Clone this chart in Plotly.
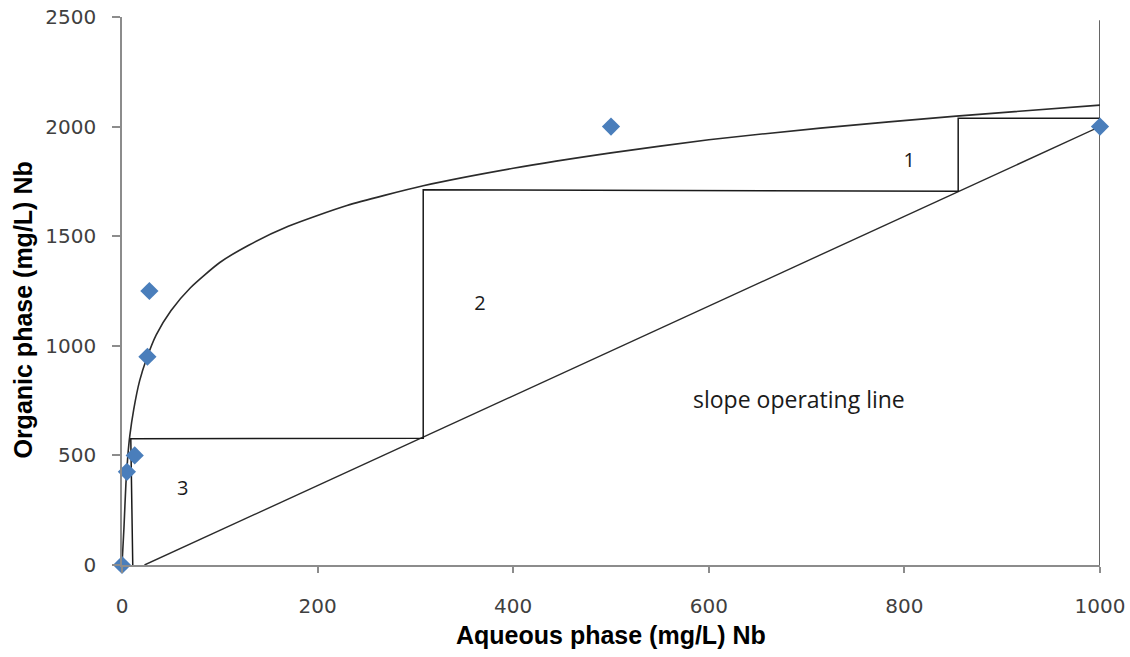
import plotly.graph_objects as go

# Measured equilibrium data (aqueous vs organic Nb, mg/L)
eq_aq = [0, 5, 13, 26, 28, 500, 1000]
eq_org = [0, 425, 500, 950, 1250, 2000, 2000]

# Extraction isotherm curve
iso_aq = [0, 2, 4, 6, 8, 12, 18, 25, 35, 50, 70, 100, 130, 170, 230, 308,
          400, 500, 600, 714, 853, 1000]
iso_org = [0, 170, 370, 500, 590, 710, 840, 940, 1050, 1160, 1265, 1380,
           1460, 1545, 1640, 1730, 1810, 1880, 1940, 1993, 2048, 2098]

# Operating line
op_aq = [23, 1000]
op_org = [0, 2000]

# McCabe-Thiele stage construction
step_aq = [1000, 855, 855, 308, 308, 9, 11]
step_org = [2038, 2038, 1705, 1712, 578, 576, 0]

# Feed line at 1000 mg/L
feed_aq = [1000, 1000]
feed_org = [-25, 2485]

# Stage labels
stage_labels = ["1", "2", "3"]
stage_aq = [805, 366, 62]
stage_org = [1838, 1186, 342]

x_ticks = [0, 200, 400, 600, 800, 1000]
y_ticks = [0, 500, 1000, 1500, 2000, 2500]

fig = go.Figure()

fig.add_trace(go.Scatter(
    x=iso_aq, y=iso_org, mode="lines",
    line=dict(color="#2b2b2b", width=1.6, shape="spline", smoothing=0.6),
    hoverinfo="skip", showlegend=False))

fig.add_trace(go.Scatter(
    x=op_aq, y=op_org, mode="lines",
    line=dict(color="#2b2b2b", width=1.4),
    hoverinfo="skip", showlegend=False))

fig.add_trace(go.Scatter(
    x=step_aq, y=step_org, mode="lines",
    line=dict(color="#1a1a1a", width=1.5),
    hoverinfo="skip", showlegend=False))

fig.add_trace(go.Scatter(
    x=feed_aq, y=feed_org, mode="lines",
    line=dict(color="#333333", width=1.5),
    cliponaxis=False, hoverinfo="skip", showlegend=False))

fig.add_trace(go.Scatter(
    x=eq_aq, y=eq_org, mode="markers",
    marker=dict(symbol="diamond", size=14, color="#4A7EBB",
                line=dict(width=0)),
    cliponaxis=False, showlegend=False))

fig.add_trace(go.Scatter(
    x=stage_aq, y=stage_org, mode="text", text=stage_labels,
    textfont=dict(family="Open Sans", size=20, color="#1a1a1a"),
    hoverinfo="skip", showlegend=False))

fig.add_annotation(
    x=692, y=757, text="slope operating line", showarrow=False,
    font=dict(family="Open Sans", size=23, color="#1a1a1a"))

fig.add_annotation(
    xref="paper", yref="paper", x=0.5, y=-0.1277, yanchor="middle",
    text="<b>Aqueous phase (mg/L) Nb</b>", showarrow=False,
    font=dict(family="Liberation Sans", size=25, color="#000000"))

fig.add_annotation(
    xref="paper", yref="paper", x=-0.1017, y=0.4653, xanchor="center",
    yanchor="middle", textangle=-90,
    text="<b>Organic phase (mg/L) Nb</b>", showarrow=False,
    font=dict(family="Liberation Sans", size=25, color="#000000"))

axis_common = dict(
    showgrid=False, zeroline=False, showline=True, automargin=False,
    linecolor="#8c8c8c", linewidth=1.5,
    ticks="outside", tickcolor="#8c8c8c", tickwidth=1.5,
    tickfont=dict(family="DejaVu Sans", size=20, color="#404040"),
)

fig.update_xaxes(range=[0, 1000], tickvals=x_ticks, ticklen=6,
                 ticklabelstandoff=16, **axis_common)
fig.update_yaxes(range=[0, 2500], tickvals=y_ticks, ticklen=8,
                 ticklabelstandoff=12, **axis_common)

fig.update_layout(
    width=1130, height=657,
    margin=dict(l=122, r=30, t=17, b=92),
    paper_bgcolor="white", plot_bgcolor="white",
)

fig.write_html("out.html")
